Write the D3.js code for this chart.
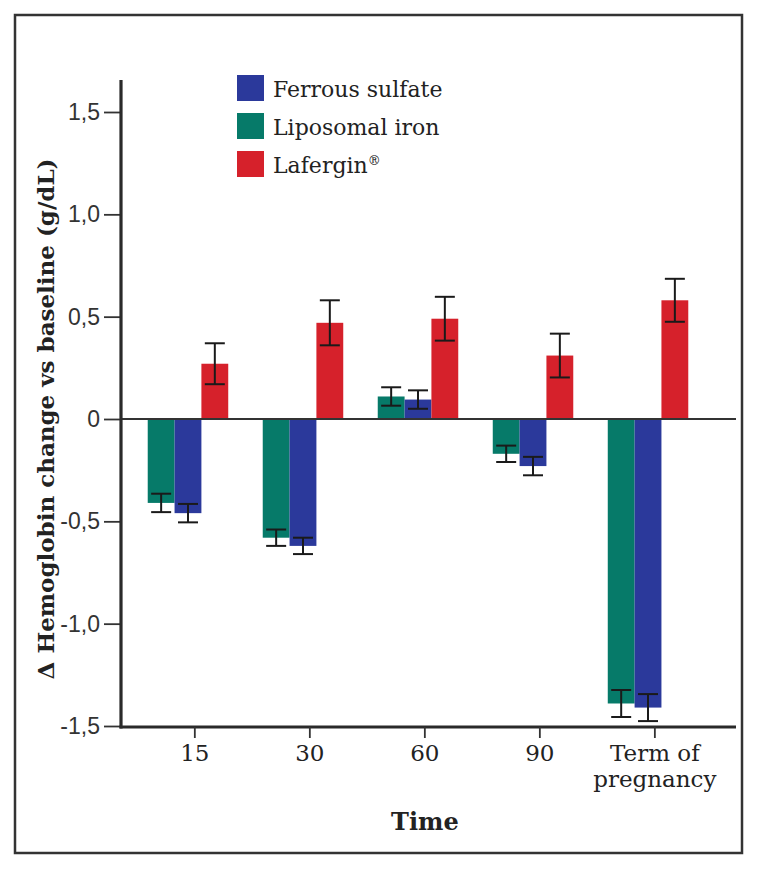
<!DOCTYPE html>
<html>
<head>
<meta charset="utf-8">
<script src="https://cdn.jsdelivr.net/npm/d3@7"></script>
<style>
  html, body { margin: 0; padding: 0; background: #fff; }
  svg { display: block; }
</style>
</head>
<body>
<svg id="chart" width="758" height="871"></svg>
<script>
const categories = ["15", "30", "60", "90", "Term of pregnancy"];
const seriesNames = ["Liposomal iron", "Ferrous sulfate", "Lafergin"];
const legendOrder = ["Ferrous sulfate", "Liposomal iron", "Lafergin"];
const liposomalIron = [-0.41, -0.58, 0.11, -0.17, -1.39];
const liposomalIronErr = [0.045, 0.04, 0.045, 0.04, 0.066];
const ferrousSulfate = [-0.46, -0.62, 0.095, -0.23, -1.41];
const ferrousSulfateErr = [0.045, 0.04, 0.045, 0.045, 0.066];
const lafergin = [0.27, 0.47, 0.49, 0.31, 0.58];
const laferginErr = [0.10, 0.11, 0.107, 0.107, 0.105];
const yTicks = [1.5, 1.0, 0.5, 0, -0.5, -1.0, -1.5];
const yTickLabels = ["1,5", "1,0", "0,5", "0", "-0,5", "-1,0", "-1,5"];
const yTitle = "\u0394 Hemoglobin change vs baseline (g/dL)";
const xTitle = "Time";

const colors = {
  "Ferrous sulfate": "#2b399b",
  "Liposomal iron": "#067a69",
  "Lafergin": "#d6212b"
};
const values = {
  "Liposomal iron": liposomalIron,
  "Ferrous sulfate": ferrousSulfate,
  "Lafergin": lafergin
};
const errors = {
  "Liposomal iron": liposomalIronErr,
  "Ferrous sulfate": ferrousSulfateErr,
  "Lafergin": laferginErr
};

const svg = d3.select("#chart");
const serif = "'DejaVu Serif', 'Liberation Serif', serif";
const sans = "'Liberation Sans', Arial, sans-serif";

// outer frame
svg.append("rect")
  .attr("x", 15).attr("y", 15).attr("width", 727).attr("height", 838)
  .attr("fill", "none").attr("stroke", "#333").attr("stroke-width", 2.5);

const axisX = 121, axisBottom = 727, axisTop = 80, axisRight = 736;

const y = d3.scaleLinear().domain([-1.5, 1.5]).range([726, 112]);
const x = d3.scaleBand().domain(categories).range([123, 713])
  .paddingInner(0.3).paddingOuter(0.215);
const xs = d3.scaleBand().domain(seriesNames).range([0, x.bandwidth()]);
const tickOffset = x.bandwidth() * 0.585;

// bars
const rows = [];
categories.forEach((c, i) => {
  seriesNames.forEach(s => {
    rows.push({ c, s, v: values[s][i], e: errors[s][i] });
  });
});

svg.append("g").selectAll("rect").data(rows).join("rect")
  .attr("x", d => x(d.c) + xs(d.s))
  .attr("width", xs.bandwidth())
  .attr("y", d => Math.min(y(d.v), y(0)))
  .attr("height", d => Math.abs(y(d.v) - y(0)))
  .attr("fill", d => colors[d.s]);

// error bars
const eb = svg.append("g").attr("stroke", "#1a1a1a").attr("stroke-width", 2).attr("fill", "none");
rows.forEach(d => {
  const cx = x(d.c) + xs(d.s) + xs.bandwidth() / 2;
  const y1 = y(d.v + d.e), y2 = y(d.v - d.e);
  eb.append("line").attr("x1", cx).attr("x2", cx).attr("y1", y1).attr("y2", y2);
  eb.append("line").attr("x1", cx - 10).attr("x2", cx + 10).attr("y1", y1).attr("y2", y1);
  eb.append("line").attr("x1", cx - 10).attr("x2", cx + 10).attr("y1", y2).attr("y2", y2);
});

// zero line
svg.append("line")
  .attr("x1", axisX).attr("x2", axisRight).attr("y1", y(0)).attr("y2", y(0))
  .attr("stroke", "#333").attr("stroke-width", 1.8);

// y axis
const yAxis = d3.axisLeft(y).tickValues(yTicks)
  .tickFormat((d, i) => yTickLabels[i]).tickSize(17).tickPadding(4);
const gy = svg.append("g").attr("transform", `translate(${axisX},0)`).call(yAxis);
gy.select(".domain").remove();
gy.selectAll(".tick line").attr("stroke", "#333").attr("stroke-width", 1.8);
gy.selectAll(".tick text").attr("font-family", sans).attr("font-size", 23)
  .attr("fill", "#333");
svg.append("line")
  .attr("x1", axisX).attr("x2", axisX).attr("y1", axisTop).attr("y2", axisBottom + 1.5)
  .attr("stroke", "#2a2a2a").attr("stroke-width", 3.2);

// x axis
svg.append("line")
  .attr("x1", axisX - 1.5).attr("x2", axisRight).attr("y1", axisBottom).attr("y2", axisBottom)
  .attr("stroke", "#2a2a2a").attr("stroke-width", 3.2);
const gx = svg.append("g");
categories.forEach(c => {
  const tx = x(c) + tickOffset;
  gx.append("line").attr("x1", tx).attr("x2", tx).attr("y1", axisBottom).attr("y2", axisBottom + 11)
    .attr("stroke", "#333").attr("stroke-width", 1.8);
  const words = c === "Term of pregnancy" ? ["Term of", "pregnancy"] : [c];
  words.forEach((w, k) => {
    gx.append("text").attr("x", tx).attr("y", 761 + k * 26)
      .attr("text-anchor", "middle")
      .attr("font-family", serif).attr("font-size", 23).attr("fill", "#222")
      .text(w);
  });
});

// axis titles
svg.append("text")
  .attr("x", x("60") + tickOffset).attr("y", 830)
  .attr("text-anchor", "middle")
  .attr("font-family", serif).attr("font-weight", "bold").attr("font-size", 24)
  .attr("fill", "#222").text(xTitle);

svg.append("text")
  .attr("transform", `translate(54,${y(0)}) rotate(-90)`)
  .attr("text-anchor", "middle")
  .attr("font-family", serif).attr("font-weight", "bold").attr("font-size", 23)
  .attr("fill", "#222").text(yTitle);

// legend
const lg = svg.append("g");
legendOrder.forEach((s, i) => {
  const ly = 75 + i * 38;
  lg.append("rect").attr("x", 237).attr("y", ly).attr("width", 27).attr("height", 26)
    .attr("fill", colors[s]);
  const t = lg.append("text").attr("x", 273).attr("y", ly + 22)
    .attr("font-family", serif).attr("font-size", 22).attr("fill", "#222")
    .text(s);
  if (s === "Lafergin") {
    t.append("tspan").attr("font-size", 13).attr("dy", -8).text("\u00AE");
  }
});
</script>
</body>
</html>
